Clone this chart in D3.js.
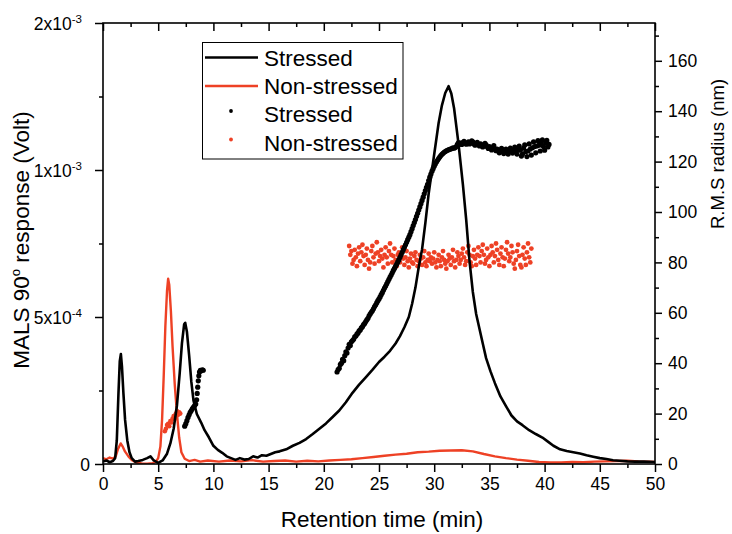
<!DOCTYPE html>
<html><head><meta charset="utf-8">
<script src="https://cdn.jsdelivr.net/npm/d3@7"></script>
<style>body{margin:0;background:#fff}svg{display:block}</style>
</head><body>
<svg id="c" width="732" height="534"></svg>
<script>
// ---------- DATA ----------
// MALS 90° response (Volt) vs retention time (min)
const stressedMALS = [[0,0.8e-5],[0.3,1.2e-5],[0.6,0.6e-5],[0.9,1.0e-5],[1.1,2.0e-5],[1.25,8e-5],[1.4,2.4e-4],[1.52,3.5e-4],[1.62,3.74e-4],[1.72,3.3e-4],[1.85,2.4e-4],[2.0,1.5e-4],[2.2,0.8e-4],[2.4,0.4e-4],[2.6,0.2e-4],[2.9,0.08e-4],[3.2,0.1e-4],[3.6,0.14e-4],[4.0,0.2e-4],[4.3,0.26e-4],[4.6,0.12e-4],[5.0,0.04e-4],[5.4,0.12e-4],[5.8,0.35e-4],[6.1,0.7e-4],[6.4,1.2e-4],[6.7,2.0e-4],[6.95,3.1e-4],[7.15,4.1e-4],[7.35,4.75e-4],[7.45,4.8e-4],[7.6,4.5e-4],[7.8,3.7e-4],[8.0,2.8e-4],[8.2,2.15e-4],[8.5,1.7e-4],[8.9,1.4e-4],[9.2,1.15e-4],[9.6,0.9e-4],[10.0,0.62e-4],[10.4,0.48e-4],[10.8,0.38e-4],[11.2,0.26e-4],[11.6,0.2e-4],[12.0,0.14e-4],[12.4,0.2e-4],[12.8,0.15e-4],[13.2,0.17e-4],[13.6,0.26e-4],[14.0,0.22e-4],[14.4,0.3e-4],[14.8,0.28e-4],[15.2,0.34e-4],[15.6,0.4e-4],[16.0,0.43e-4],[16.6,0.5e-4],[17.2,0.62e-4],[17.8,0.72e-4],[18.4,0.85e-4],[19.0,1.02e-4],[19.6,1.2e-4],[20.2,1.38e-4],[20.8,1.6e-4],[21.4,1.82e-4],[22.0,2.1e-4],[22.6,2.42e-4],[23.2,2.7e-4],[23.8,2.95e-4],[24.4,3.2e-4],[25.0,3.47e-4],[25.5,3.65e-4],[26.0,3.85e-4],[26.5,4.1e-4],[26.9,4.35e-4],[27.3,4.65e-4],[27.7,5.0e-4],[28.0,5.45e-4],[28.3,6.0e-4],[28.6,6.7e-4],[28.9,7.3e-4],[29.2,8.2e-4],[29.5,9.2e-4],[29.8,1.0e-3],[30.1,1.08e-3],[30.4,1.16e-3],[30.7,1.22e-3],[31.0,1.262e-3],[31.3,1.285e-3],[31.55,1.26e-3],[31.8,1.21e-3],[32.0,1.15e-3],[32.2,1.09e-3],[32.4,1.02e-3],[32.6,9.5e-4],[32.9,8.3e-4],[33.2,6.9e-4],[33.5,5.85e-4],[33.8,5.1e-4],[34.1,4.6e-4],[34.4,4.1e-4],[34.7,3.6e-4],[35.1,3.15e-4],[35.5,2.75e-4],[36.0,2.3e-4],[36.5,1.97e-4],[37.0,1.65e-4],[37.5,1.45e-4],[38.0,1.32e-4],[38.6,1.15e-4],[39.2,1.02e-4],[39.8,0.9e-4],[40.3,0.76e-4],[40.8,0.62e-4],[41.4,0.5e-4],[42.0,0.44e-4],[42.6,0.4e-4],[43.2,0.36e-4],[43.8,0.3e-4],[44.4,0.25e-4],[45.0,0.2e-4],[45.6,0.17e-4],[46.2,0.13e-4],[46.8,0.11e-4],[47.5,0.09e-4],[48.2,0.08e-4],[49.0,0.08e-4],[50.0,0.07e-4]];

const nonStressedMALS = [[0,2.0e-5],[0.3,1.6e-5],[0.6,2.2e-5],[0.9,1.8e-5],[1.15,2.6e-5],[1.35,5.0e-5],[1.6,7.0e-5],[1.8,5.8e-5],[2.0,4.2e-5],[2.3,2.6e-5],[2.6,1.4e-5],[3.0,0.5e-5],[3.5,0.2e-5],[4.0,0.1e-5],[4.5,0.3e-5],[4.8,0.8e-5],[5.0,2.0e-5],[5.2,6.0e-5],[5.35,1.5e-4],[5.5,3.0e-4],[5.65,4.7e-4],[5.8,5.9e-4],[5.9,6.3e-4],[6.0,6.1e-4],[6.15,5.2e-4],[6.3,4.0e-4],[6.5,2.7e-4],[6.7,1.7e-4],[6.9,0.9e-4],[7.1,0.4e-4],[7.4,0.18e-4],[7.8,0.1e-4],[8.3,0.14e-4],[8.8,0.08e-4],[9.5,0.12e-4],[10.5,0.08e-4],[11.5,0.12e-4],[12.5,0.09e-4],[13.5,0.13e-4],[14.5,0.08e-4],[15.5,0.1e-4],[16.5,0.12e-4],[17.5,0.08e-4],[18.5,0.11e-4],[19.5,0.09e-4],[20.5,0.12e-4],[21.5,0.14e-4],[22.5,0.16e-4],[23.5,0.2e-4],[24.5,0.24e-4],[25.5,0.28e-4],[26.5,0.32e-4],[27.5,0.35e-4],[28.5,0.4e-4],[29.5,0.42e-4],[30.5,0.45e-4],[31.5,0.46e-4],[32.5,0.47e-4],[33.5,0.43e-4],[34.5,0.34e-4],[35.5,0.26e-4],[36.5,0.2e-4],[37.5,0.15e-4],[38.5,0.11e-4],[39.5,0.07e-4],[40.5,0.05e-4],[41.5,0.05e-4],[42.5,0.07e-4],[43.5,0.06e-4],[44.5,0.08e-4],[45.5,0.09e-4],[46.5,0.1e-4],[47.5,0.11e-4],[48.5,0.09e-4],[49.5,0.08e-4],[50,0.07e-4]];

// R.M.S radius (nm) — early peaks [time, radius]
const stressedRadiusEarly = [[7.4,15],[7.5,16],[7.6,17.2],[7.7,18.5],[7.8,19.5],[7.9,20.5],[8.0,21.2],[8.1,22.0],[8.2,22.6],[8.3,23.2],[8.4,23.8],[8.48,25.5],[8.53,28],[8.58,30.5],[8.63,33],[8.68,35],[8.74,36.5],[8.82,37.2],[8.9,37.0],[9.0,37.4],[9.08,37.2]];
const nonStressedRadiusEarly = [[5.6,13],[5.7,14],[5.8,15.5],[5.9,16],[6.0,15],[6.1,17],[6.2,16.5],[6.3,18],[6.4,19],[6.5,18],[6.6,20],[6.7,21],[6.8,19.5],[6.9,20.5],[7.0,20]];

// R.M.S radius (nm) — main peak, detector sampling every 0.1 min
const sampleStep = 0.1;
const stressedRadiusStart = 21.2;
const stressedRadius = [36.5,37.5,38.0,39.5,40.0,41.5,41.0,43.0,44.5,44.0,46.0,47.5,47.0,48.5,49.0,49.5,50.5,50.8,51.5,52.0,52.8,53.2,54.0,54.5,55.3,55.8,56.5,57.2,57.8,58.8,59.5,60.2,60.8,61.6,62.5,63.2,64.0,64.8,65.5,66.3,67.2,68.0,68.9,69.8,70.6,71.5,72.4,73.3,74.2,75.0,75.9,76.8,77.6,78.5,79.3,80.2,81.1,82.0,83.0,84.0,85.0,86.0,87.0,88.0,89.0,90.0,91.0,92.2,93.4,94.6,95.8,97.0,98.3,99.5,100.8,102.0,103.3,104.6,105.9,107.2,108.5,109.8,111.0,112.5,113.8,115.0,116.2,117.2,118.2,119.0,119.8,120.5,121.2,121.8,122.4,122.9,123.3,123.7,124.0,124.3,124.5,124.7,124.9,125.0,125.2,125.5,125.3,125.6,126.0,126.8,127.5,127.0,127.3,126.8,127.5,128.0,127.2,126.9,127.3,127.8,127.0,127.4,128.2,127.8,127.0,126.5,127.2,127.6,126.8,126.2,127.0,126.5,125.8,126.4,127.2,126.6,125.9,125.2,126.0,125.4,124.6,125.5,126.3,125.1,124.3,125.0,124.2,123.5,124.5,125.3,124.0,123.2,124.1,125.0,124.0,123.0,124.2,125.4,124.3,123.4,124.6,125.8,124.4,123.0,124.8,126.2,124.5,122.2,123.0,125.4,126.6,124.0,122.0,124.2,127.0,125.0,122.6,125.5,127.8,126.0,123.5,126.2,128.3,126.5,124.2,127.2,128.6,126.0,124.5,127.4,128.4,125.8,126.8];
const nonStressedRadiusStart = 22.3;
const nonStressedRadius = [86.5,83.0,84.5,79.5,81.0,85.0,82.0,78.5,83.5,86.0,
80.5,84.0,87.0,82.5,79.0,83.0,85.5,81.0,77.5,80.0,
84.5,86.5,82.0,79.5,83.5,88.0,84.0,80.5,82.5,85.0,
81.5,78.0,83.0,86.0,82.0,79.5,84.5,87.5,83.0,80.0,
82.5,85.5,81.0,78.5,83.0,84.0,80.0,82.5,86.0,81.5,
79.0,82.0,84.5,80.5,78.0,81.5,83.5,80.0,79.5,82.5,
84.0,81.0,78.5,80.5,83.0,81.5,79.0,82.0,84.5,80.0,
78.5,81.0,83.5,80.5,82.0,79.5,81.5,84.0,80.0,78.0,
81.0,83.0,80.5,78.5,82.0,84.5,81.0,79.5,77.5,80.5,
83.0,81.5,79.0,82.0,85.0,80.5,78.0,81.0,84.0,82.5,
79.5,81.0,83.5,85.5,82.0,79.0,80.5,84.0,86.5,83.0,
80.0,78.5,82.5,85.0,81.5,79.0,83.0,86.0,82.5,80.0,
84.5,87.0,83.0,79.5,81.0,85.5,82.0,78.5,83.0,86.5,
84.0,80.0,82.5,87.5,85.0,81.0,79.0,83.5,86.0,82.0,
78.5,81.5,85.0,88.0,83.5,80.5,82.0,86.5,84.0,79.5,
77.5,81.0,84.5,87.0,82.5,79.0,78.0,83.0,86.0,81.5,
79.0,84.0,87.5,82.0,80.0,85.5];

// Axes ticks / labels
const xTicks = [0,5,10,15,20,25,30,35,40,45,50];
const xMinor = [2.5,7.5,12.5,17.5,22.5,27.5,32.5,37.5,42.5,47.5];
const leftTicks = [0,5e-4,1e-3,1.5e-3];
const leftTickLabels = [["0",""],["5x10","-4"],["1x10","-3"],["2x10","-3"]];
const leftMinor = [2.5e-4,7.5e-4,1.25e-3];
const rightTicks = [0,20,40,60,80,100,120,140,160];
const rightMinor = [10,30,50,70,90,110,130,150,170];
const legendItems = [
  {label:"Stressed", color:"#000000", kind:"line"},
  {label:"Non-stressed", color:"#ee4125", kind:"line"},
  {label:"Stressed", color:"#000000", kind:"dot"},
  {label:"Non-stressed", color:"#ee4125", kind:"dot"}
];

// ---------- DRAW ----------
const FONT = "'Liberation Sans', Arial, Helvetica, sans-serif";
const BLACK = "#000000", RED = "#ee4125";
const L=103, R=655, T=23, B=464;
const svg = d3.select("#c").style("font-family", FONT);
svg.append("rect").attr("width",732).attr("height",534).attr("fill","#fff");

const x = d3.scaleLinear().domain([0,50]).range([L,R]);
const yL = d3.scaleLinear().domain([0,1.5e-3]).range([B,T]);
const yR = d3.scaleLinear().domain([0,175]).range([B,T]);

svg.append("defs").append("clipPath").attr("id","clip")
  .append("rect").attr("x",L).attr("y",T).attr("width",R-L).attr("height",B-T);
const plot = svg.append("g").attr("clip-path","url(#clip)");

const toPairs = (start, vals) => vals.map((v,i)=>[start + i*sampleStep, v]);

// scatter (radius, right axis)
function dots(data, color, r){
  plot.append("g").selectAll("circle").data(data).join("circle")
    .attr("cx", d=>x(d[0])).attr("cy", d=>yR(d[1])).attr("r", r).attr("fill", color);
}
dots(nonStressedRadiusEarly, RED, 2.3);
dots(toPairs(nonStressedRadiusStart, nonStressedRadius), RED, 2.4);

// lines (MALS, left axis)
const line = d3.line().x(d=>x(d[0])).y(d=>yL(d[1]));
plot.append("path").datum(nonStressedMALS).attr("d", line)
  .attr("fill","none").attr("stroke",RED).attr("stroke-width",2.4).attr("stroke-linejoin","round");
plot.append("path").datum(stressedMALS).attr("d", line)
  .attr("fill","none").attr("stroke",BLACK).attr("stroke-width",2.6).attr("stroke-linejoin","round");

dots(stressedRadiusEarly, BLACK, 2.6);
dots(toPairs(stressedRadiusStart, stressedRadius), BLACK, 2.6);

// axes
function styleAxis(g){
  g.select(".domain").remove();
  g.selectAll(".tick line").attr("stroke","#000").attr("stroke-width",1.5);
  g.selectAll(".tick text").attr("fill","#000").style("font-family",FONT).style("font-size","17.5px");
}
// bottom
svg.append("g").attr("transform",`translate(0,${B})`)
  .call(d3.axisBottom(x).tickValues(xMinor).tickSize(4).tickFormat(""))
  .call(styleAxis);
svg.append("g").attr("transform",`translate(0,${B})`)
  .call(d3.axisBottom(x).tickValues(xTicks).tickSize(8).tickPadding(6).tickFormat(d3.format("d")))
  .call(styleAxis);
// top (inward)
svg.append("g").attr("transform",`translate(0,${T})`)
  .call(d3.axisTop(x).tickValues(xMinor).tickSize(-4).tickFormat(""))
  .call(styleAxis);
svg.append("g").attr("transform",`translate(0,${T})`)
  .call(d3.axisTop(x).tickValues(xTicks).tickSize(-8).tickFormat(""))
  .call(styleAxis);
// left
svg.append("g").attr("transform",`translate(${L},0)`)
  .call(d3.axisLeft(yL).tickValues(leftMinor).tickSize(4).tickFormat(""))
  .call(styleAxis);
const leftAx = svg.append("g").attr("transform",`translate(${L},0)`)
  .call(d3.axisLeft(yL).tickValues(leftTicks).tickSize(8).tickPadding(5).tickFormat(""))
  .call(styleAxis);
leftAx.selectAll(".tick text").each(function(d,i){
  const t = d3.select(this).text(null).attr("dy","0.36em");
  const lab = leftTickLabels[i];
  if(lab[1]){
    t.attr("dx","-8");
    t.append("tspan").text(lab[0]);
    t.append("tspan").attr("dy","-7").style("font-size","11.5px").text(lab[1]);
  } else {
    t.append("tspan").text(lab[0]);
  }
});
// right
svg.append("g").attr("transform",`translate(${R},0)`)
  .call(d3.axisRight(yR).tickValues(rightMinor).tickSize(4).tickFormat(""))
  .call(styleAxis);
svg.append("g").attr("transform",`translate(${R},0)`)
  .call(d3.axisRight(yR).tickValues(rightTicks).tickSize(7).tickPadding(6).tickFormat(d3.format("d")))
  .call(styleAxis);

// frame
svg.append("rect").attr("x",L).attr("y",T).attr("width",R-L).attr("height",B-T)
  .attr("fill","none").attr("stroke","#000").attr("stroke-width",1.6);

// axis titles
svg.append("text").attr("x",(L+R)/2 + 3).attr("y",527).attr("text-anchor","middle")
  .style("font-size","22.5px").attr("fill","#000").text("Retention time (min)");
const lt = svg.append("text").attr("transform","translate(29,240) rotate(-90)")
  .attr("text-anchor","middle").style("font-size","22.5px").attr("fill","#000");
lt.append("tspan").text("MALS 90");
lt.append("tspan").attr("dy","-9").style("font-size","13px").text("o");
lt.append("tspan").attr("dy","9").text(" response (Volt)");
svg.append("text").attr("transform","translate(724,154) rotate(-90)")
  .attr("text-anchor","middle").style("font-size","18.5px").attr("fill","#000").text("R.M.S radius (nm)");

// legend
const lg = svg.append("g");
lg.append("rect").attr("x",202.5).attr("y",42.5).attr("width",200.5).attr("height",116.5)
  .attr("fill","#fff").attr("stroke","#000").attr("stroke-width",1);
const rowY = [57.5, 86, 114, 142.5];
legendItems.forEach((it,i)=>{
  const cy = rowY[i];
  if(it.kind==="line"){
    lg.append("line").attr("x1",205).attr("x2",258).attr("y1",cy).attr("y2",cy)
      .attr("stroke",it.color).attr("stroke-width",2.6);
  } else {
    lg.append("circle").attr("cx",231).attr("cy",cy-3).attr("r",1.9).attr("fill",it.color);
  }
  lg.append("text").attr("x",264).attr("y",cy+8.3).style("font-size","22.5px")
    .attr("fill","#000").text(it.label);
});
</script>
</body></html>
